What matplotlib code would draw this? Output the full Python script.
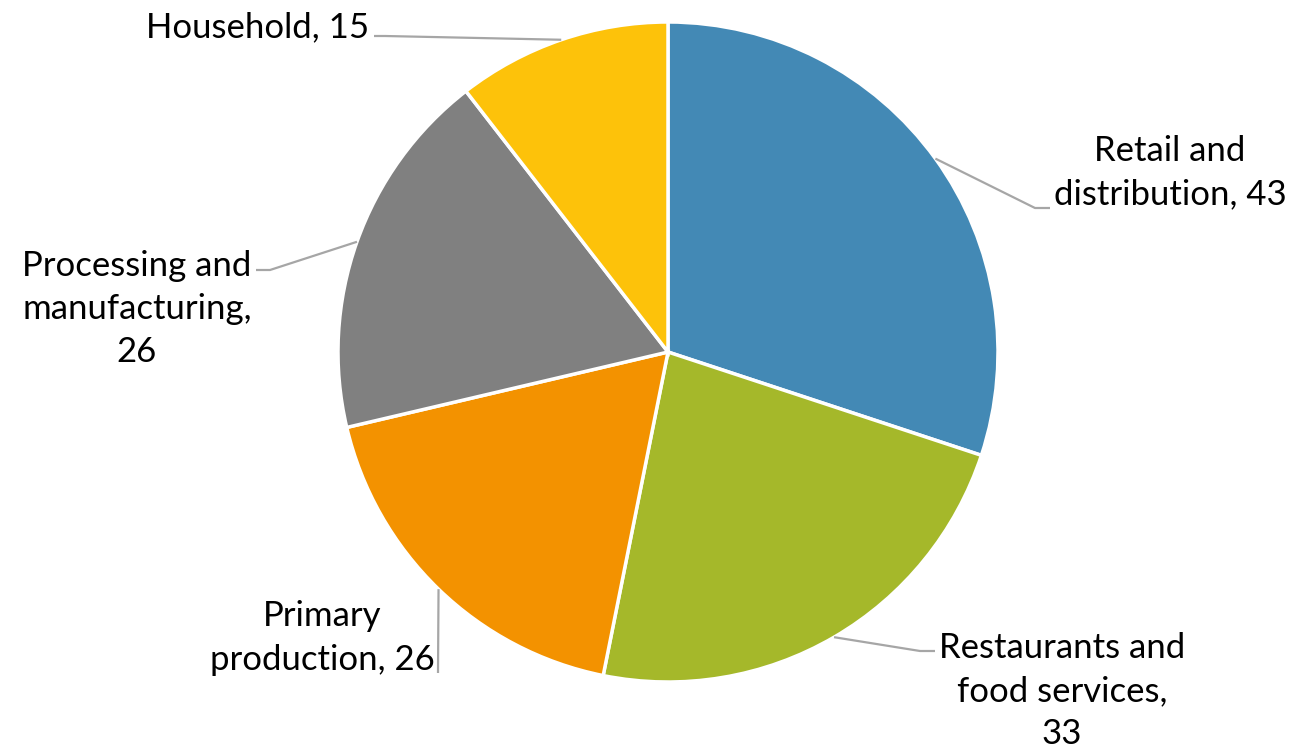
import numpy as np
import matplotlib
matplotlib.use("Agg")
import matplotlib.pyplot as plt

categories = ["Retail and\ndistribution, 43", "Restaurants and\nfood services,\n33",
              "Primary\nproduction, 26", "Processing and\nmanufacturing,\n26", "Household, 15"]
values = [43, 33, 26, 26, 15]
colors = ["#4389B5", "#A5B82A", "#F39200", "#808080", "#FDC20A"]

W, H = 1294, 751
fig = plt.figure(figsize=(W / 100, H / 100), dpi=100)
ax = fig.add_axes([0, 0, 1, 1])

cx, cy, R = 668, H - 352, 330
wedges, _ = ax.pie(values, colors=colors, startangle=90, counterclock=False,
                   center=(cx, cy), radius=R,
                   wedgeprops=dict(edgecolor="white", linewidth=2.5))
ax.set_xlim(0, W)
ax.set_ylim(0, H)
ax.set_aspect("equal")
ax.axis("off")

# label layout: (elbow x, elbow y, end x, text x, text y)
layout = [
    (1035, H - 208, 1050, 1170, H - 173),
    (920, H - 651, 935, 1062, H - 691),
    (438, H - 673, 438, 322, H - 638),
    (270, H - 270, 256, 137, H - 309),
    (385, H - 36, 374, 258, H - 27),
]
for w, lab, (ex, ey, endx, tx, ty) in zip(wedges, categories, layout):
    ang = np.deg2rad((w.theta1 + w.theta2) / 2)
    sx, sy = cx + R * np.cos(ang), cy + R * np.sin(ang)
    ax.plot([sx, ex, endx], [sy, ey, ey], color="#A6A6A6", lw=1.6,
            solid_capstyle="butt", zorder=1)
    ax.text(tx, ty, lab, ha="center", va="center", fontsize=25, family="Lato",
            color="#000000", linespacing=1.44, multialignment="center")

fig.savefig("out.png", dpi=100)
